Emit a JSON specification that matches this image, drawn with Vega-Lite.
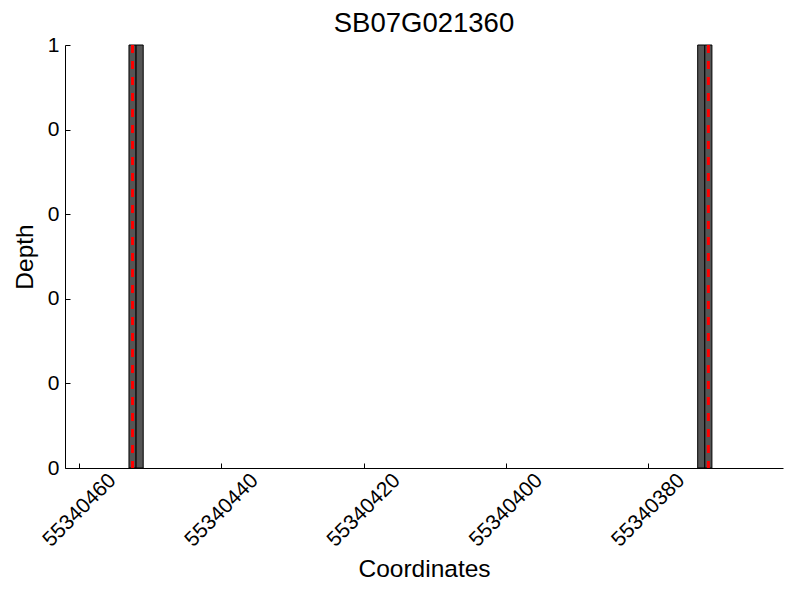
{
  "$schema": "https://vega.github.io/schema/vega-lite/v6.json",
  "autosize": {"type": "none"},
  "width": 718,
  "height": 423,
  "padding": {"left": 65, "top": 45, "right": 17, "bottom": 132},
  "background": "white",
  "config": {
    "view": {"stroke": null},
    "font": "Liberation Sans",
    "axis": {"grid": false, "domainColor": "black", "tickColor": "black", "labelColor": "black", "titleColor": "black", "labelFont": "Liberation Sans", "titleFont": "Liberation Sans", "titleFontWeight": "normal", "labelFontSize": 21, "titleFontSize": 24.5}
  },
  "title": {"text": "SB07G021360", "fontSize": 27.5, "fontWeight": "normal", "font": "Liberation Sans", "color": "black", "baseline": "alphabetic", "offset": 11, "dy": 36, "frame": "group", "anchor": "middle"},
  "datasets": {
    "bars": [
      {"start": 55340453, "end": 55340452, "depth": 1},
      {"start": 55340452, "end": 55340451, "depth": 1},
      {"start": 55340373, "end": 55340372, "depth": 1},
      {"start": 55340372, "end": 55340371, "depth": 1}
    ],
    "marks": [
      {"pos": 55340452.5},
      {"pos": 55340371.5}
    ]
  },
  "layer": [
    {
      "data": {"name": "bars"},
      "mark": {"type": "rect", "fill": "#555555", "stroke": "black", "strokeWidth": 1},
      "encoding": {
        "x": {"field": "start", "type": "quantitative", "scale": {"domain": [55340361, 55340462], "reverse": true, "nice": false, "zero": false},
          "axis": {"title": "Coordinates", "values": [55340460, 55340440, 55340420, 55340400, 55340380], "format": "d", "labelAngle": -45, "labelAlign": "center", "labelBaseline": "middle", "tickSize": -5, "labelPadding": 47, "titlePadding": 7}},
        "x2": {"field": "end"},
        "y": {"field": "depth", "type": "quantitative", "scale": {"domain": [0, 1], "nice": false},
          "axis": {"title": "Depth", "values": [0, 0.2, 0.4, 0.6, 0.8, 1], "labelExpr": "floor(datum.value + 1e-9)", "tickSize": -5, "labelPadding": 11, "titlePadding": 10}},
        "y2": {"datum": 0}
      }
    },
    {
      "data": {"name": "marks"},
      "mark": {"type": "rule", "color": "#ff0000", "strokeWidth": 3, "strokeDash": [8, 8]},
      "encoding": {
        "x": {"field": "pos", "type": "quantitative"}
      }
    }
  ]
}
